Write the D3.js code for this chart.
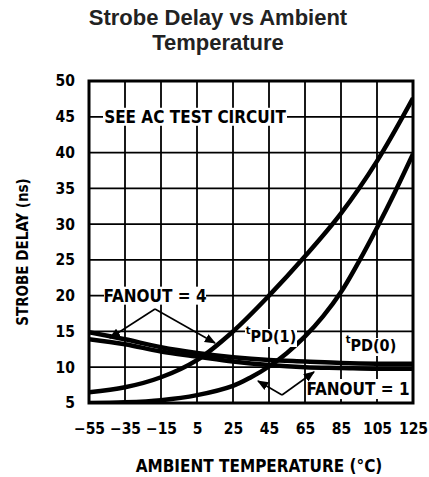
<!DOCTYPE html>
<html><head><meta charset="utf-8">
<script src="https://cdn.jsdelivr.net/npm/d3@7"></script>
<style>
body{margin:0;background:#fff;}
.cond{font-family:"DejaVu Sans Condensed",sans-serif;font-weight:bold;}
</style>
</head><body>
<svg id="c" width="429" height="477"></svg>
<script>
const temps = [-55, -35, -15, 5, 25, 45, 65, 85, 105, 125];
const xTicks = [-55, -35, -15, 5, 25, 45, 65, 85, 105, 125];
const yTicks = [5, 10, 15, 20, 25, 30, 35, 40, 45, 50];
// tPD(1), fanout = 4
const tpd1Fan4 = [6.5, 7.2, 8.6, 11.0, 15.0, 20.0, 25.5, 31.5, 38.8, 47.6];
// tPD(1), fanout = 1
const tpd1Temps = [-55, -35, -15, 5, 25, 35, 45, 55, 65, 75, 85, 95, 105, 115, 125];
const tpd1Fan1 = [5.0, 5.1, 5.4, 6.1, 7.4, 8.6, 10.1, 12.0, 14.3, 17.1, 20.5, 24.8, 29.5, 34.5, 39.8];
// tPD(0), fanout = 4 and fanout = 1
const tpd0Fan4 = [14.9, 13.9, 12.8, 12.0, 11.4, 11.0, 10.8, 10.6, 10.5, 10.5];
const tpd0Fan1 = [13.9, 13.2, 12.2, 11.5, 10.8, 10.3, 10.0, 9.9, 9.8, 9.8];

const svg = d3.select("#c");
const L = 89, R = 413, T = 81, B = 403;
const x = d3.scaleLinear().domain([-55, 125]).range([L, R]);
const y = d3.scaleLinear().domain([5, 50]).range([B, T]);

// title
svg.append("text").attr("x", 218).attr("y", 25).attr("text-anchor", "middle")
  .style("font-family", "'Liberation Sans',Arial,sans-serif").style("font-weight", "bold")
  .style("font-size", "22px").attr("fill", "#222").text("Strobe Delay vs Ambient");
svg.append("text").attr("x", 218).attr("y", 50).attr("text-anchor", "middle")
  .style("font-family", "'Liberation Sans',Arial,sans-serif").style("font-weight", "bold")
  .style("font-size", "22px").attr("fill", "#222").text("Temperature");

// grid
const g = svg.append("g");
g.selectAll(".vg").data(xTicks).join("line")
  .attr("x1", d => x(d)).attr("x2", d => x(d)).attr("y1", T).attr("y2", B)
  .attr("stroke", "#000").attr("stroke-width", 1.8);
g.selectAll(".hg").data(yTicks).join("line")
  .attr("x1", L).attr("x2", R).attr("y1", d => y(d)).attr("y2", d => y(d))
  .attr("stroke", "#000").attr("stroke-width", 1.8);

// axes labels via d3 axes
const yAxis = svg.append("g").attr("transform", `translate(${L - 14},0)`)
  .call(d3.axisLeft(y).tickValues(yTicks).tickSize(0).tickPadding(0));
yAxis.select(".domain").remove();
yAxis.selectAll("text").style("font-size", "15.5px").attr("fill", "#000")
  .style("font-family", "'DejaVu Sans Condensed',sans-serif").style("font-weight", "bold");

const xAxis = svg.append("g").attr("transform", `translate(0,${B + 20})`)
  .call(d3.axisBottom(x).tickValues(xTicks).tickSize(0).tickPadding(0)
    .tickFormat(d => d < 0 ? "\u2212" + Math.abs(d) : d));
xAxis.select(".domain").remove();
xAxis.selectAll("text").style("font-size", "15.5px").attr("fill", "#000")
  .style("font-family", "'DejaVu Sans Condensed',sans-serif").style("font-weight", "bold");

svg.append("text").attr("class", "cond").attr("x", 259).attr("y", 472).attr("text-anchor", "middle")
  .style("font-size", "17px").text("AMBIENT TEMPERATURE (\u00B0C)");
svg.append("text").attr("class", "cond").attr("transform", "translate(28,252) rotate(-90)")
  .attr("text-anchor", "middle").style("font-size", "15px").text("STROBE DELAY (ns)");

// curves
const line = (xs, ys) => d3.line().x((d, i) => x(xs[i])).y(d => y(d)).curve(d3.curveCatmullRom.alpha(0.5))(ys);
svg.append("clipPath").attr("id", "pc").append("rect")
  .attr("x", L).attr("y", T).attr("width", R - L).attr("height", B - T);
const cg = svg.append("g").attr("clip-path", "url(#pc)");
cg.append("path").attr("d", line(temps, tpd0Fan4)).attr("fill", "none").attr("stroke", "#000").attr("stroke-width", 4.5);
cg.append("path").attr("d", line(temps, tpd0Fan1)).attr("fill", "none").attr("stroke", "#000").attr("stroke-width", 4.5);
cg.append("path").attr("d", line(temps, tpd1Fan4)).attr("fill", "none").attr("stroke", "#000").attr("stroke-width", 4.5);
cg.append("path").attr("d", line(tpd1Temps, tpd1Fan1)).attr("fill", "none").attr("stroke", "#000").attr("stroke-width", 4.5);

// frame
svg.append("rect").attr("x", L).attr("y", T).attr("width", R - L).attr("height", B - T)
  .attr("fill", "none").attr("stroke", "#000").attr("stroke-width", 3);

// annotations
function label(txt, cx, cy, w, h, size) {
  svg.append("rect").attr("x", cx - w / 2).attr("y", cy - h / 2).attr("width", w).attr("height", h).attr("fill", "#fff");
  svg.append("text").attr("class", "cond").attr("x", cx).attr("y", cy).attr("dy", "0.36em")
    .attr("text-anchor", "middle").style("font-size", size + "px").text(txt);
}
label("SEE AC TEST CIRCUIT", 195, y(45), 184, 18, 17);
label("FANOUT = 4", 155, y(20), 102, 18, 17);
label("FANOUT = 1", 358, 389, 100, 20, 17);

function tpd(sub, cx, cy, w, h) {
  svg.append("rect").attr("x", cx - w / 2).attr("y", cy - h / 2).attr("width", w).attr("height", h).attr("fill", "#fff");
  const t = svg.append("text").attr("class", "cond").attr("x", cx).attr("y", cy).attr("dy", "0.4em")
    .attr("text-anchor", "middle").style("font-size", "16px");
  t.append("tspan").style("font-size", "11px").attr("dy", "-0.35em").text("t");
  t.append("tspan").attr("dy", "0.5em").text("PD(" + sub + ")");
}
tpd("1", 271, 338, 52, 18);
tpd("0", 371, 347, 52, 18);

// arrows
const defs = svg.append("defs");
defs.append("marker").attr("id", "ah").attr("viewBox", "0 0 10 10").attr("refX", 9).attr("refY", 5)
  .attr("markerWidth", 7).attr("markerHeight", 7).attr("orient", "auto")
  .append("path").attr("d", "M0,1 L10,5 L0,9 Z").attr("fill", "#000");
function arrow(x1, y1, x2, y2) {
  svg.append("line").attr("x1", x1).attr("y1", y1).attr("x2", x2).attr("y2", y2)
    .attr("stroke", "#000").attr("stroke-width", 1.6).attr("marker-end", "url(#ah)");
}
arrow(155, 309, 110, 338);
arrow(155, 309, 215, 343);
arrow(282, 395, 258, 381);
arrow(282, 395, 314, 372);
</script>
</body></html>
